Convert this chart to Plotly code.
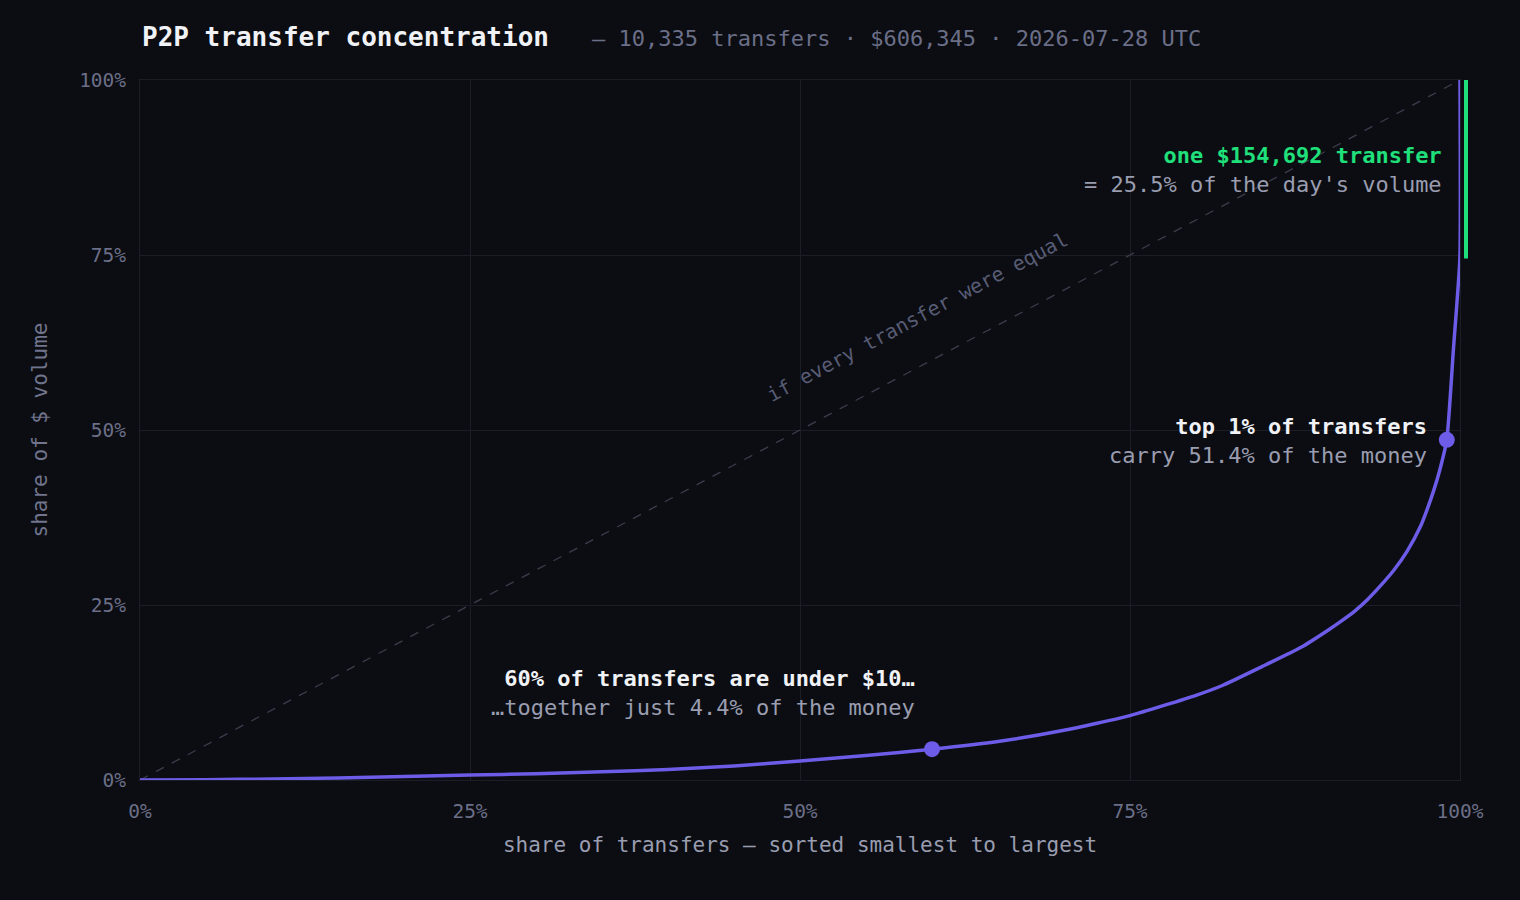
"""P2P transfer concentration — Lorenz curve of one day's transfers."""

import plotly.graph_objects as go

# 配色
BG = "#0b0d12"
GRID = "#1b1e26"
PURPLE = "#6c5ce7"
GREEN = "#1fe07a"
TICK = "#6b6f88"
MUTED = "#9a9db0"
WHITE = "#f1f2f6"
FONT = "DejaVu Sans Mono"

# 洛伦兹曲线 (share of transfers -> share of $ volume)
share_transfers = [0, 0.05, 0.10, 0.15, 0.20, 0.25, 0.30, 0.35, 0.40, 0.45,
                   0.50, 0.55, 0.60, 0.65, 0.70, 0.75, 0.80, 0.82, 0.85, 0.88,
                   0.90, 0.91, 0.92, 0.93, 0.94, 0.95, 0.96, 0.97, 0.975, 0.98,
                   0.985, 0.99, 0.995, 0.9999, 1.0]
share_volume = [0, 0.0005, 0.0015, 0.003, 0.005, 0.007, 0.009, 0.0118, 0.015, 0.020,
                0.027, 0.035, 0.044, 0.055, 0.071, 0.092, 0.121, 0.135, 0.162, 0.19,
                0.214, 0.227, 0.241, 0.258, 0.278, 0.300, 0.327, 0.362, 0.386, 0.413,
                0.445, 0.486, 0.615, 0.745, 1.0]

# 标注点
callout_x = [0.60, 0.99]
callout_y = [0.044, 0.486]
biggest_share = 0.255

ticks = [0, 0.25, 0.5, 0.75, 1.0]
tick_labels = ["0%", "25%", "50%", "75%", "100%"]

fig = go.Figure()

# 完全平均线
fig.add_trace(go.Scatter(
    x=[0, 1], y=[0, 1], mode="lines",
    line=dict(color="#3a3e4c", width=1.3, dash="dash"),
    hoverinfo="skip", showlegend=False,
))

fig.add_trace(go.Scatter(
    x=share_transfers, y=share_volume, mode="lines",
    line=dict(color=PURPLE, width=3.5, shape="spline", smoothing=0.5),
    cliponaxis=False, showlegend=False,
    hovertemplate="%{x:.1%} of transfers<br>%{y:.1%} of volume<extra></extra>",
))

fig.add_trace(go.Scatter(
    x=callout_x, y=callout_y, mode="markers",
    marker=dict(size=16, color=PURPLE),
    cliponaxis=False, showlegend=False, hoverinfo="skip",
))

# 单笔最大转账 — 绿色竖条
shapes = [dict(
    type="line", xref="paper", yref="y",
    xsizemode="pixel", xanchor=1, x0=6, x1=6,
    y0=1 - biggest_share, y1=1,
    line=dict(color=GREEN, width=4),
)]

annotations = [
    dict(xref="paper", yref="paper", x=0, y=1, yshift=43, xanchor="left", yanchor="middle",
         text="<b>P2P transfer concentration</b>", showarrow=False,
         font=dict(family=FONT, size=26, color=WHITE)),
    dict(xref="paper", yref="paper", x=0.3409, y=1, yshift=42, xanchor="left", yanchor="middle",
         text="— 10,335 transfers · $606,345 · 2026-07-28 UTC", showarrow=False,
         font=dict(family=FONT, size=22, color=TICK)),
    dict(x=0.589, y=0.661, text="if every transfer were equal", showarrow=False,
         textangle=-28, font=dict(family=FONT, size=20, color="#585c75")),
    dict(x=0.60, y=0.044, xshift=-15, yshift=56, xanchor="right", yanchor="middle",
         align="right", showarrow=False,
         text=f"<b>60% of transfers are under $10…</b><br>"
              f"<span style='color:{MUTED}'>…together just 4.4% of the money</span>",
         font=dict(family=FONT, size=22, color=WHITE)),
    dict(x=0.99, y=0.486, xshift=-18, yshift=-1, xanchor="right", yanchor="middle",
         align="right", showarrow=False,
         text=f"<b>top 1% of transfers</b><br>"
              f"<span style='color:{MUTED}'>carry 51.4% of the money</span>",
         font=dict(family=FONT, size=22, color=WHITE)),
    dict(x=1.0, y=0.871, xshift=-16, xanchor="right", yanchor="middle",
         align="right", showarrow=False,
         text=f"<b><span style='color:{GREEN}'>one $154,692 transfer</span></b><br>"
              f"<span style='color:{MUTED}'>= 25.5% of the day's volume</span>",
         font=dict(family=FONT, size=22, color=WHITE)),
]

axis_common = dict(
    range=[0, 1], tickvals=ticks, ticktext=tick_labels,
    showgrid=True, gridcolor=GRID, gridwidth=1,
    zeroline=False, showline=True, mirror=True, linecolor=GRID, linewidth=1,
    ticks="", tickfont=dict(family=FONT, size=19.5, color=TICK),
    fixedrange=True,
)

fig.update_layout(
    width=1520, height=900,
    paper_bgcolor=BG, plot_bgcolor=BG,
    margin=dict(l=140, r=60, t=80, b=120),
    font=dict(family=FONT, color=MUTED),
    showlegend=False,
    shapes=shapes, annotations=annotations,
    xaxis=dict(**axis_common, ticklabelstandoff=14,
               title=dict(text="share of transfers — sorted smallest to largest",
                          font=dict(family=FONT, size=21, color=MUTED), standoff=14)),
    yaxis=dict(**axis_common, ticklabelstandoff=9,
               title=dict(text="share of $ volume",
                          font=dict(family=FONT, size=21, color="#70748c"), standoff=25)),
)

fig.write_html(
    "out.html",
    config={"displayModeBar": False},
    post_script="document.body.style.margin='0';document.body.style.background='#0b0d12';",
)
